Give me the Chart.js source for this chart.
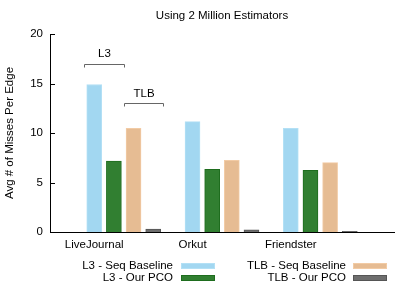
<!DOCTYPE html>
<html lang="en">
<head>
<meta charset="UTF-8">
<title>Using 2 Million Estimators</title>
<script src="https://cdn.jsdelivr.net/npm/chart.js"></script>
<style>
  html, body { margin: 0; padding: 0; background: #fff; }
  #wrap { width: 415px; height: 290px; }
</style>
</head>
<body>
<div id="wrap"><canvas id="chart" width="415" height="290"></canvas></div>
<script>
const categories = ["LiveJournal", "Orkut", "Friendster"];
const l3Seq = [14.9, 11.15, 10.47];
const l3Pco = [7.17, 6.33, 6.23];
const tlbSeq = [10.47, 7.24, 7.0];
const tlbPco = [0.3, 0.23, 0.07];
const yTicks = [0, 5, 10, 15, 20];

const FONT = "'Liberation Sans', Arial, sans-serif";

// each cluster sits at x = i, the four bars step by 0.2
const points = (vals, j) => vals.map((v, i) => ({ x: i + j * 0.2, y: v }));

const series = [
  { label: "L3 - Seq Baseline", data: points(l3Seq, 0), fill: "#a2d7f1", line: "#b3e0f5" },
  { label: "L3 - Our PCO", data: points(l3Pco, 1), fill: "#317f31", line: "#1e6d1e" },
  { label: "TLB - Seq Baseline", data: points(tlbSeq, 2), fill: "#e6bc93", line: "#f2cba5" },
  { label: "TLB - Our PCO", data: points(tlbPco, 3), fill: "#6e6e6e", line: "#555555" }
];

const extras = {
  id: "extras",
  afterDraw(chart) {
    const ctx = chart.ctx;
    const xs = chart.scales.x, ys = chart.scales.y;
    const area = chart.chartArea;
    ctx.save();
    ctx.font = "11.5px " + FONT;
    ctx.fillStyle = "#000";

    // title
    ctx.textAlign = "center";
    ctx.textBaseline = "middle";
    ctx.fillText("Using 2 Million Estimators", (area.left + area.right) / 2, 16);

    // y axis title
    ctx.save();
    ctx.translate(10, (area.top + area.bottom) / 2);
    ctx.rotate(-Math.PI / 2);
    ctx.fillText("Avg # of Misses Per Edge", 0, 0);
    ctx.restore();

    // inward y ticks
    ctx.strokeStyle = "#000";
    ctx.lineWidth = 1;
    yTicks.forEach(t => {
      const py = Math.round(ys.getPixelForValue(t)) + 0.5;
      ctx.beginPath();
      ctx.moveTo(area.left, py);
      ctx.lineTo(area.left + 5, py);
      ctx.stroke();
    });

    // brackets over the first cluster
    ctx.strokeStyle = "#666";
    [[-0.1, 0.3, 17, "L3"], [0.3, 0.7, 13, "TLB"]].forEach(([a, b, v, txt]) => {
      const x1 = Math.round(xs.getPixelForValue(a)) + 0.5, x2 = Math.round(xs.getPixelForValue(b)) + 0.5;
      const py = Math.round(ys.getPixelForValue(v)) + 0.5;
      ctx.beginPath();
      ctx.moveTo(x1, py + 3);
      ctx.lineTo(x1, py);
      ctx.lineTo(x2, py);
      ctx.lineTo(x2, py + 3);
      ctx.stroke();
      ctx.fillText(txt, (x1 + x2) / 2, ys.getPixelForValue(v + 1));
    });

    // legend, text right-aligned before the swatch
    const cols = [{ textRight: 173, box: 181 }, { textRight: 346, box: 353 }];
    const rows = [266, 278];
    const order = [[0, 0, 0], [1, 0, 1], [2, 1, 0], [3, 1, 1]];
    ctx.textAlign = "right";
    order.forEach(([k, c, r]) => {
      const s = series[k];
      ctx.fillStyle = "#000";
      ctx.fillText(s.label, cols[c].textRight, rows[r]);
      ctx.fillStyle = s.fill;
      ctx.fillRect(cols[c].box, rows[r] - 3, 34, 6);
      ctx.strokeStyle = s.line;
      ctx.strokeRect(cols[c].box + 0.5, rows[r] - 2.5, 33, 5);
    });
    ctx.restore();
  }
};

new Chart(document.getElementById("chart"), {
  type: "bar",
  data: {
    datasets: series.map(s => ({
      label: s.label,
      data: s.data,
      backgroundColor: s.fill,
      borderColor: s.line,
      borderWidth: 1,
      barThickness: 15,
      grouped: false
    }))
  },
  options: {
    responsive: false,
    animation: false,
    layout: { padding: { top: 34, right: 21, left: 0, bottom: 0 } },
    plugins: { legend: { display: false }, title: { display: false }, tooltip: { enabled: false } },
    scales: {
      x: {
        type: "linear",
        offset: false,
        min: -0.45,
        max: 3.05,
        afterFit: s => { s.height = 58; },
        afterBuildTicks: s => { s.ticks = categories.map((c, i) => ({ value: i })); },
        ticks: {
          autoSkip: false,
          maxRotation: 0,
          padding: 6,
          color: "#000",
          font: { family: FONT, size: 11.5 },
          callback: v => categories[v]
        },
        grid: { display: false, drawTicks: false, offset: false },
        border: { display: true, color: "#000", width: 1 }
      },
      y: {
        min: 0,
        max: 20,
        afterFit: s => { s.width = 50; },
        afterBuildTicks: s => { s.ticks = yTicks.map(v => ({ value: v })); },
        ticks: {
          padding: 7,
          color: "#000",
          font: { family: FONT, size: 11.5 }
        },
        grid: { display: false, drawTicks: false },
        border: { display: true, color: "#000", width: 1 }
      }
    }
  },
  plugins: [extras]
});
</script>
</body>
</html>
